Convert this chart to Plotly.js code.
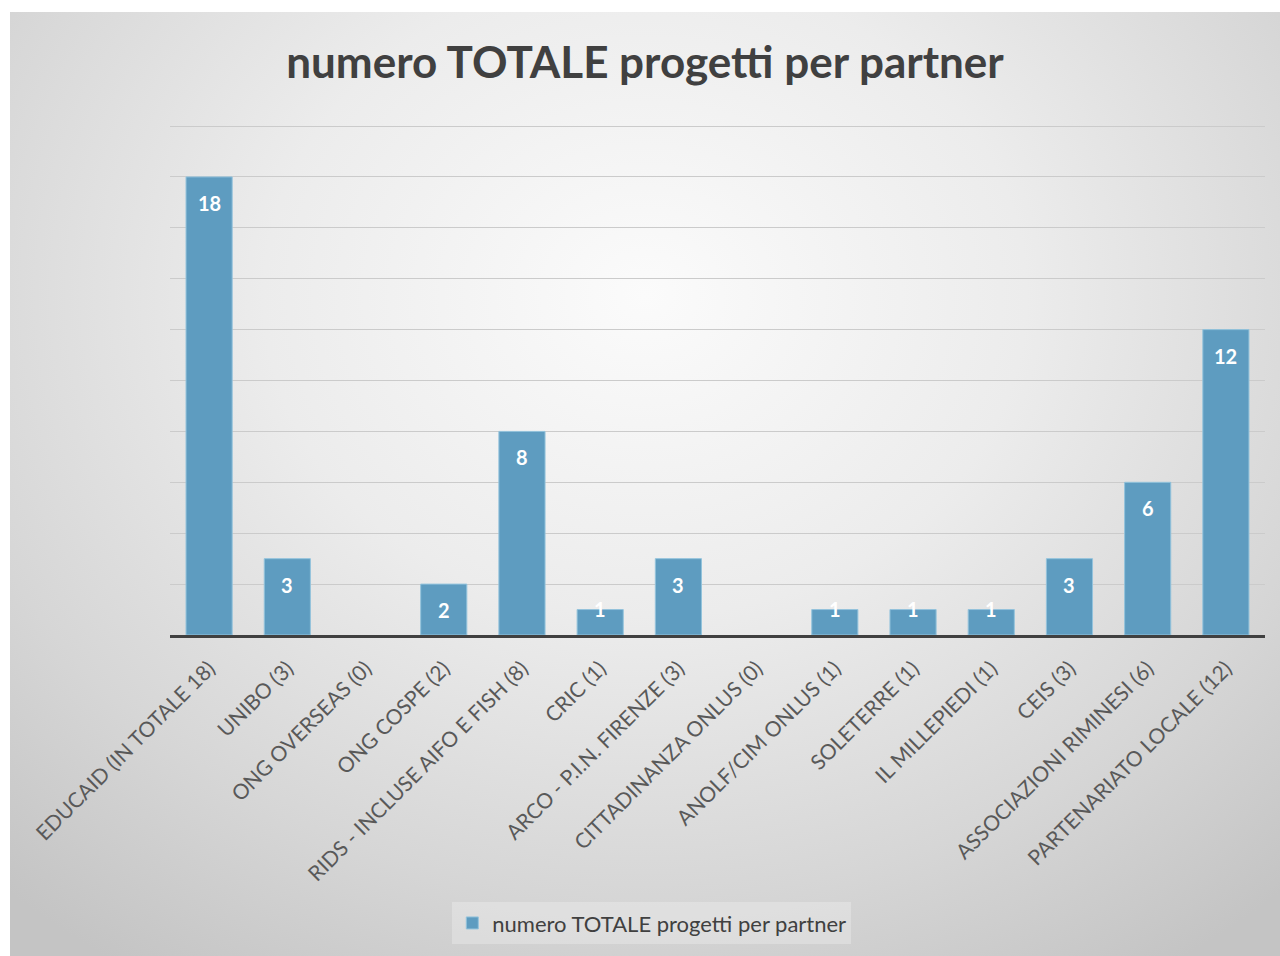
<!DOCTYPE html>
<html>
<head>
<meta charset="utf-8">
<script src="https://cdn.plot.ly/plotly-3.0.1.min.js"></script>
<style>
html,body{margin:0;padding:0;background:#ffffff;}
#chart{position:absolute;left:10px;top:12px;width:1270px;height:944px;
background:radial-gradient(ellipse 75% 85% at 50% 30%, #fbfbfb 0%, #ececec 40%, #d6d6d6 75%, #c4c4c4 100%);}
</style>
</head>
<body>
<div id="chart"></div>
<script>
const categories = [
  "EDUCAID (IN TOTALE 18)",
  "UNIBO (3)",
  "ONG OVERSEAS (0)",
  "ONG COSPE (2)",
  "RIDS - INCLUSE AIFO E FISH (8)",
  "CRIC (1)",
  "ARCO - P.I.N. FIRENZE (3)",
  "CITTADINANZA ONLUS (0)",
  "ANOLF/CIM ONLUS (1)",
  "SOLETERRE (1)",
  "IL MILLEPIEDI (1)",
  "CEIS (3)",
  "ASSOCIAZIONI RIMINESI (6)",
  "PARTENARIATO LOCALE (12)"
];
const values = [18, 3, 0, 2, 8, 1, 3, 0, 1, 1, 1, 3, 6, 12];
const seriesName = "numero TOTALE progetti per partner";
const titleText = "numero TOTALE progetti per partner";

const FONT = 'Lato, "Open Sans", sans-serif';

const annotations = [];
categories.forEach((c, i) => {
  const v = values[i];
  if (v === 0) return;
  annotations.push({
    x: c, y: v, xref: 'x', yref: 'y',
    text: '<b>' + v + '</b>', showarrow: false,
    yanchor: 'middle', yshift: v >= 2 ? -26 : 1,
    font: {family: FONT, size: 20, color: '#ffffff'}
  });
});

const trace = {
  type: 'bar',
  x: categories,
  y: values,
  name: seriesName,
  marker: {color: '#5e9cc0', line: {color: '#93c3dc', width: values.map(v => v ? 1 : 0)}},
  hoverinfo: 'x+y'
};

const layout = {
  width: 1270, height: 944,
  paper_bgcolor: 'rgba(0,0,0,0)',
  plot_bgcolor: 'rgba(0,0,0,0)',
  margin: {l: 160, r: 15, t: 113, b: 321},
  title: {
    text: '<b>' + titleText + '</b>',
    x: 0.5, xanchor: 'center', y: 0.946, yanchor: 'middle',
    font: {family: FONT, size: 44, color: '#404040'}
  },
  showlegend: true,
  legend: {
    orientation: 'h', x: 0.44, xanchor: 'center', y: -0.565, yanchor: 'middle',
    bgcolor: 'rgba(255,255,255,0.25)',
    font: {family: FONT, size: 22, color: '#404040'}
  },
  bargap: 0.41,
  xaxis: {
    type: 'category',
    tickangle: -45,
    showline: true, linecolor: '#404040', linewidth: 3,
    ticks: '', showgrid: false,
    ticklabelstandoff: 10,
    tickfont: {family: FONT, size: 21, color: '#595959'}
  },
  yaxis: {
    range: [0, 20.04], dtick: 2,
    showticklabels: false, ticks: '',
    showgrid: true, gridcolor: '#cbcbcb', gridwidth: 1,
    zeroline: false, showline: false
  },
  annotations: annotations
};

Plotly.newPlot('chart', [trace], layout, {displayModeBar: false, staticPlot: true});
</script>
</body>
</html>
